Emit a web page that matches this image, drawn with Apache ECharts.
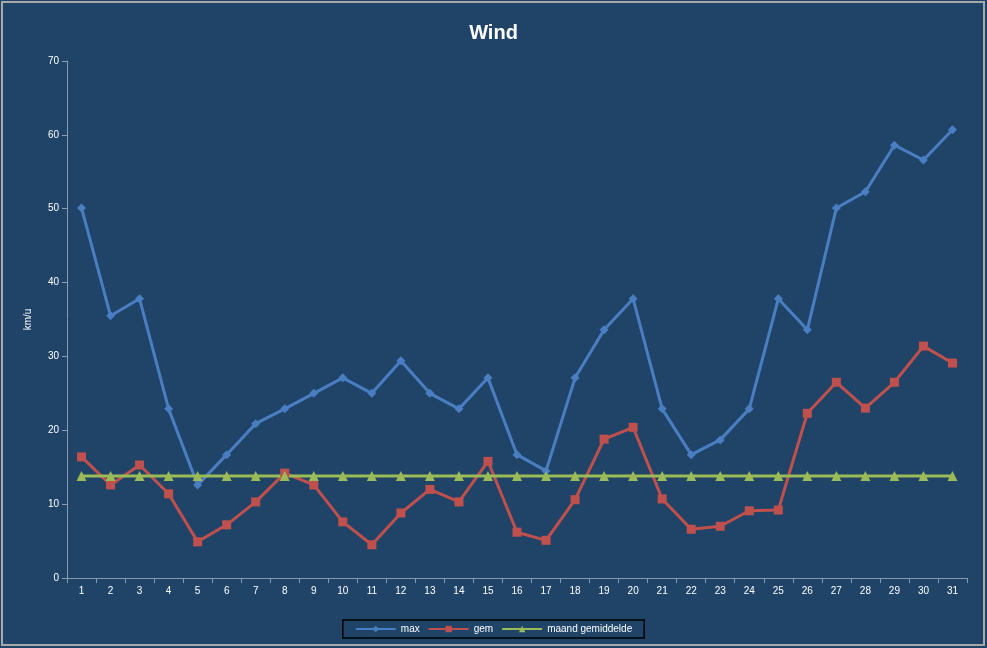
<!DOCTYPE html>
<html><head><meta charset="utf-8">
<script src="https://cdn.jsdelivr.net/npm/echarts@6/dist/echarts.min.js"></script>
<style>html,body{margin:0;padding:0;background:#fff}#c{width:987px;height:648px}</style>
</head><body><div id="c"></div>
<script>
const days = Array.from({length:31},(_,i)=>String(i+1));
const maxVals = [50.1,35.5,37.8,22.9,12.6,16.7,20.9,22.9,25.0,27.1,25.0,29.4,25.0,22.9,27.1,16.7,14.5,27.1,33.6,37.8,22.9,16.7,18.7,22.9,37.8,33.6,50.1,52.3,58.6,56.6,60.7];
const gemVals = [16.4,12.6,15.3,11.4,4.9,7.2,10.3,14.2,12.6,7.6,4.5,8.8,12.0,10.3,15.8,6.2,5.1,10.6,18.8,20.4,10.7,6.6,7.0,9.1,9.2,22.3,26.5,23.0,26.5,31.4,29.1];
const avgVal = 13.8;
const avgVals = days.map(()=>avgVal);
const chart = echarts.init(document.getElementById('c'));
const axisCol = '#8a9bb0';
chart.setOption({
  backgroundColor:'#1F4467',
  graphic:[{type:'rect',shape:{x:2,y:2,width:982,height:643},style:{fill:'none',stroke:'#a8a8a8',lineWidth:2}}],
  title:{text:'Wind',left:'center',top:18,textStyle:{color:'#fff',fontSize:20,fontWeight:'bold',fontFamily:'Liberation Sans'}},
  grid:{left:67,right:20,top:61,bottom:70},
  legend:{bottom:10,left:'center',itemWidth:40,itemHeight:8,itemGap:8,padding:[4,12],borderColor:'#000',borderWidth:1.5,
    textStyle:{color:'#fff',fontSize:10,fontFamily:'Liberation Sans'},data:['max','gem','maand gemiddelde']},
  xAxis:{type:'category',data:days,boundaryGap:true,axisLine:{lineStyle:{color:axisCol}},axisTick:{show:true,lineStyle:{color:axisCol}},
    axisLabel:{color:'#fff',fontSize:10,fontFamily:'Liberation Sans'}},
  yAxis:{type:'value',min:0,max:70,interval:10,name:'km/u',nameLocation:'middle',nameGap:34,nameTextStyle:{color:'#fff',fontSize:10},
    axisLine:{show:true,lineStyle:{color:axisCol}},axisTick:{show:true,lineStyle:{color:axisCol}},splitLine:{show:false},
    axisLabel:{color:'#fff',fontSize:10,fontFamily:'Liberation Sans'}},
  series:[
    {name:'max',type:'line',data:maxVals,symbol:'diamond',symbolSize:9,color:'#4A7EC2',lineStyle:{width:3}},
    {name:'gem',type:'line',data:gemVals,symbol:'rect',symbolSize:9,color:'#C0504D',lineStyle:{width:3}},
    {name:'maand gemiddelde',type:'line',data:avgVals,symbol:'triangle',symbolSize:10,color:'#9BBB59',lineStyle:{width:3}}
  ]
});
</script></body></html>
